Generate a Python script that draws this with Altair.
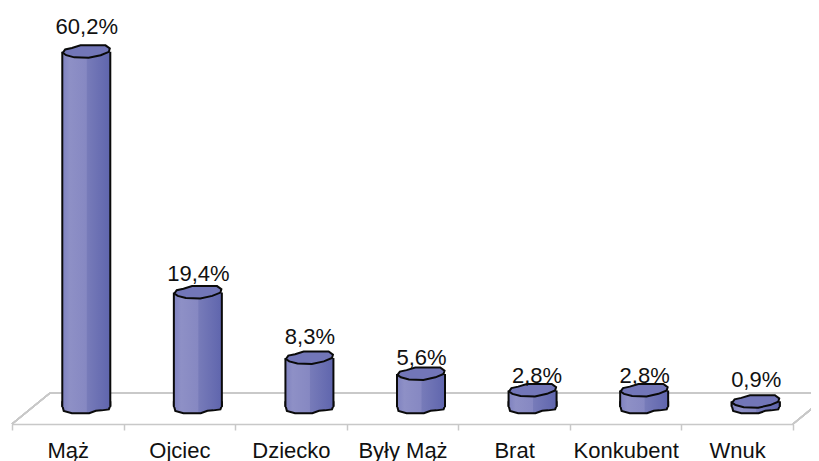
import altair as alt
import pandas as pd

categories = ["Mąż", "Ojciec", "Dziecko", "Były Mąż", "Brat", "Konkubent", "Wnuk"]
values = [60.2, 19.4, 8.3, 5.6, 2.8, 2.8, 0.9]
labels = ["60,2%", "19,4%", "8,3%", "5,6%", "2,8%", "2,8%", "0,9%"]

df = pd.DataFrame({"cat": categories, "val": values, "lab": labels})

TOP_CAP = ("M-0.49,0.02 L-0.44,-0.05 L-0.3,-0.08 L-0.12,-0.135 L0.4,-0.135 L0.49,-0.07 "
           "L0.47,0.0 L0.3,0.07 L0.05,0.125 L-0.25,0.115 L-0.42,0.07 Z")
BOTTOM_CAP = ("M-0.5,-0.03 L-0.47,0.08 L-0.3,0.13 L0.06,0.13 L0.2,0.08 L0.32,0.07 L0.47,0.05 "
              "L0.5,-0.03 L0.5,-0.1 L-0.5,-0.1 Z")

fill = alt.LinearGradient(
    gradient="linear", x1=0, x2=1, y1=0, y2=0,
    stops=[
        alt.GradientStop(offset=0, color="#7f82c0"),
        alt.GradientStop(offset=0.15, color="#8e90c6"),
        alt.GradientStop(offset=0.5, color="#8688c2"),
        alt.GradientStop(offset=0.52, color="#777bb9"),
        alt.GradientStop(offset=1, color="#5f65ad"),
    ],
)

xs = alt.X("cat:N", sort=categories, title=None,
           scale=alt.Scale(paddingInner=0, paddingOuter=0),
           axis=alt.Axis(tickBand="extent", domainColor="#c8c8c8", domainWidth=1.5,
                         tickColor="#c8c8c8", tickWidth=1.5, tickSize=6,
                         labelAngle=0, labelFont="Liberation Sans", labelFontSize=22,
                         labelColor="#111111", labelPadding=10, grid=False))
yscale = alt.Scale(domain=[-2.88, 67.63], nice=False, zero=False)
ys = alt.Y("val:Q", axis=None, scale=yscale)

base = alt.Chart(df)
OFF = 18.5
W = 48
STROKE = 2

floor_back = base.mark_rule(color="#c8c8c8", strokeWidth=1.5).encode(
    x=alt.value(38), x2=alt.value(815), y=alt.value(385))
floor_left = base.mark_rule(color="#c8c8c8", strokeWidth=1.5).encode(
    x=alt.value(0), x2=alt.value(38), y=alt.value(416), y2=alt.value(385))
floor_right = base.mark_rule(color="#c8c8c8", strokeWidth=1.5).encode(
    x=alt.value(781), x2=alt.value(819), y=alt.value(416), y2=alt.value(385))

bottom = alt.Chart(df.assign(zero=0.0)).mark_point(
    shape=BOTTOM_CAP, size=4 * W * W, filled=True, fill=fill, stroke="#0a0a0a",
    strokeWidth=STROKE, opacity=1, xOffset=OFF
).encode(x=xs, y=alt.Y("zero:Q", axis=None, scale=yscale))

body = base.mark_bar(size=W, xOffset=OFF, fill=fill).encode(
    x=xs, y=ys, y2=alt.Y2(datum=0))

side_l = base.mark_rule(color="#0a0a0a", strokeWidth=STROKE, xOffset=OFF - W / 2).encode(
    x=xs, y=ys, y2=alt.Y2(datum=0))
side_r = base.mark_rule(color="#0a0a0a", strokeWidth=STROKE, xOffset=OFF + W / 2).encode(
    x=xs, y=ys, y2=alt.Y2(datum=0))

top = base.mark_point(
    shape=TOP_CAP, size=4 * W * W, filled=True, fill="#7276b8", stroke="#0a0a0a",
    strokeWidth=STROKE, opacity=1, xOffset=OFF
).encode(x=xs, y=ys)

# Each value label sits at its own distance from its bar in the reference.
lifts = {"Mąż": -25, "Ojciec": -19, "Dziecko": -21, "Były Mąż": -16,
         "Brat": -14, "Konkubent": -14, "Wnuk": -22}
nudges = {"Brat": 4}
texts = [
    alt.Chart(df[df["cat"] == c]).mark_text(
        font="Liberation Sans", fontSize=22, color="#111111",
        xOffset=OFF + 0.5 + nudges.get(c, 0), yOffset=lifts[c]
    ).encode(x=xs, y=ys, text="lab:N")
    for c in categories
]

chart = alt.layer(
    floor_back, floor_left, floor_right, bottom, body, side_l, side_r, top, *texts
).properties(
    width=781, height=416,
    padding={"left": 4, "top": 0, "right": 18, "bottom": 37},
    autosize=alt.AutoSizeParams(type="none"),
).configure_view(stroke=None)

chart.save("out.html", embed_options={"renderer": "svg", "actions": False})
